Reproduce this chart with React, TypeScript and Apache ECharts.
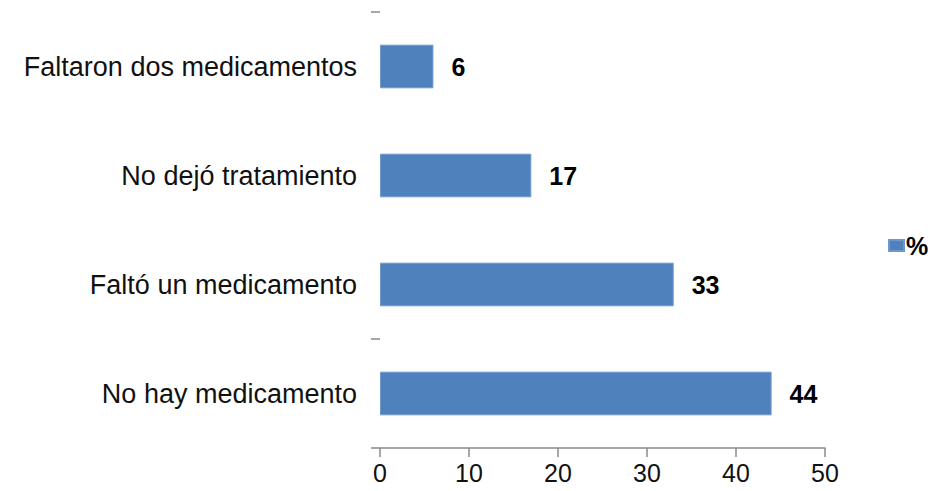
import React, { useEffect, useRef } from "react";
import * as echarts from "echarts";

const categories = [
  "No hay medicamento",
  "Faltó un medicamento",
  "No dejó tratamiento",
  "Faltaron dos medicamentos",
];
const values = [44, 33, 17, 6];
const seriesName = "%";
const xTicks = { min: 0, max: 50, interval: 10 };

export default function App() {
  const ref = useRef<HTMLDivElement>(null);
  useEffect(() => {
    if (!ref.current) return;
    const chart = echarts.init(ref.current, null, { renderer: "svg" });
    const font = "'Liberation Sans', Arial, sans-serif";
    chart.setOption({
      animation: false,
      backgroundColor: "#ffffff",
      textStyle: { fontFamily: font },
      grid: { left: 380, right: 103, top: 12, bottom: 43, containLabel: false },
      legend: {
        data: [seriesName],
        left: 883,
        top: "middle",
        itemWidth: 15,
        itemHeight: 11,
        itemGap: 5,
        icon: "rect",
        textStyle: { fontSize: 25, fontWeight: "bold", color: "#000", fontFamily: font, padding: [0, 0, 0, -3] },
      },
      xAxis: {
        type: "value",
        min: xTicks.min,
        max: xTicks.max,
        interval: xTicks.interval,
        axisLine: { show: true, lineStyle: { color: "#8a8a8a", width: 1.5 } },
        axisTick: { show: true, length: 9, lineStyle: { color: "#8a8a8a", width: 1.5 } },
        splitLine: { show: false },
        axisLabel: { fontSize: 25, color: "#111", margin: 12, fontFamily: font },
      },
      yAxis: {
        type: "category",
        data: categories,
        axisLine: { show: false },
        axisTick: {
          show: true,
          length: 9,
          interval: (index: number) => index === 0 || index === 1,
          lineStyle: { color: "#8a8a8a", width: 1.5 },
        },
        axisLabel: { fontSize: 27, color: "#111", margin: 23, fontFamily: font },
      },
      series: [
        {
          name: seriesName,
          type: "bar",
          data: values,
          barCategoryGap: "60%",
          itemStyle: { color: "#4f81bd", borderColor: "#6f97c9", borderWidth: 1 },
          label: {
            show: true,
            position: "right",
            distance: 18,
            fontSize: 25,
            fontWeight: "bold",
            color: "#000",
            fontFamily: font,
          },
        },
      ],
    });
    return () => chart.dispose();
  }, []);
  return (
    <div
      ref={ref}
      style={{ position: "fixed", left: 0, top: 0, width: 928, height: 491 }}
    />
  );
}
